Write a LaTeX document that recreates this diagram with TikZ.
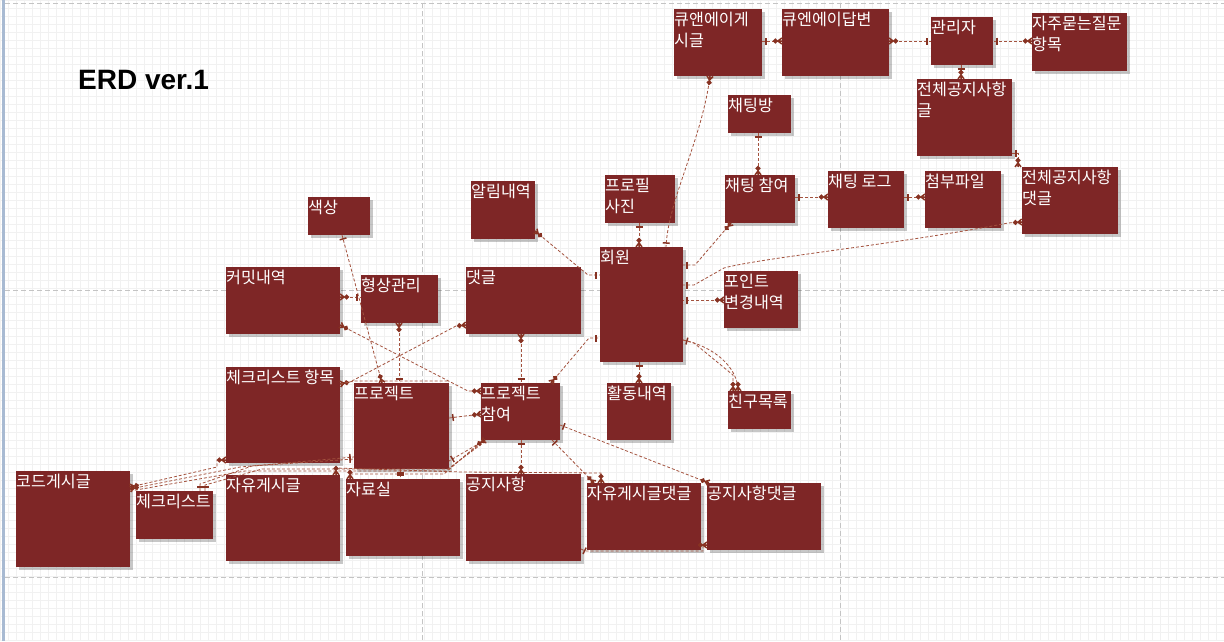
\documentclass[tikz,border=0pt]{standalone}
\usepackage{fontspec}
\newfontfamily\krfont{Noto Sans CJK KR}
\newfontfamily\titlefont{Liberation Sans}
\usetikzlibrary{decorations.markings,shadows}

\definecolor{boxred}{RGB}{126,38,38}
\definecolor{conn}{RGB}{163,82,62}
\definecolor{mk}{RGB}{135,50,34}
\definecolor{gridc}{RGB}{241,241,241}
\definecolor{pagec}{RGB}{196,196,196}
\definecolor{leftbar}{RGB}{168,186,210}

\tikzset{
  ent/.style={fill=boxred, draw=none, inner sep=0pt, outer sep=0pt, anchor=north west,
    drop shadow={shadow xshift=2.5pt, shadow yshift=-2.5pt, fill=black, opacity=0.22}},
  etext/.style={anchor=north west, inner sep=0pt, text=white, align=left,
    font=\krfont\fontsize{16.2}{21}\selectfont, xshift=0pt, yshift=-3pt},
  rel/.style={draw=conn, line width=0.8pt, dash pattern=on 3pt off 2pt},
  mkline/.style={draw=mk, solid, line width=1.5pt},
  onestart/.style={postaction={decorate, decoration={markings,
    mark=at position 4pt with {\draw[mkline] (0pt,-3.5pt)--(0pt,3.5pt);}}}},
  oneend/.style={postaction={decorate, decoration={markings,
    mark=at position -4pt with {\draw[mkline] (0pt,-3.5pt)--(0pt,3.5pt);}}}},
  manystart/.style={postaction={decorate, decoration={markings,
    mark=at position 0.1pt with {\draw[mkline] (0pt,-3pt)--(4pt,0pt)--(0pt,3pt) (0pt,0pt)--(4pt,0pt);
      \draw[mkline, fill=mk] (6.5pt,0pt) circle (1.7pt);}}}},
  manyend/.style={postaction={decorate, decoration={markings,
    mark=at position -0.1pt with {\draw[mkline] (0pt,-3pt)--(-4pt,0pt)--(0pt,3pt) (0pt,0pt)--(-4pt,0pt);
      \draw[mkline, fill=mk] (-6.5pt,0pt) circle (1.7pt);}}}},
}

% entity box: name, left, top, right, bottom, caption
\newcommand\erbox[6]{%
  \node[ent, minimum width={(#4-#2)*1pt}, minimum height={(#5-#3)*1pt},
    label={[etext]north west:#6}] (#1) at (#2,#3) {};}

\begin{document}
\begin{tikzpicture}[x=1pt, y=-1pt]
\useasboundingbox (0,0) rectangle (1224,641);
\fill[white] (0,0) rectangle (1224,641);

% sheet grid and page breaks
\draw[gridc, line width=0.6pt, step=8pt] (0,0) grid (1224,641);
\draw[pagec, line width=0.7pt, dash pattern=on 5pt off 3pt]
  (5,3) -- (1224,3)
  (5,290) -- (1224,290)
  (5,577) -- (1224,577)
  (422,3) -- (422,641)
  (840,3) -- (840,641);
\fill[leftbar] (1.5,0) rectangle (4.5,641);

% title
\node[anchor=base west, inner sep=0pt, font=\titlefont\bfseries\fontsize{28}{30}\selectfont]
  (title) at (78,89) {ERD ver.1};

% entities
\erbox{qa}{674}{9}{762}{76}{큐앤에이게\\시글}
\erbox{qaans}{782}{9}{889}{76}{큐엔에이답변}
\erbox{admin}{931}{17}{993}{65}{관리자}
\erbox{faq}{1032}{13}{1127}{71}{자주묻는질문\\항목}
\erbox{noticeall}{917}{79}{1012}{156}{전체공지사항\\글}
\erbox{chatroom}{728}{95}{791}{133}{채팅방}
\erbox{chatjoin}{725}{175}{795}{223}{채팅 참여}
\erbox{chatlog}{828}{171}{904}{228}{채팅 로그}
\erbox{attach}{925}{171}{1001}{228}{첨부파일}
\erbox{noticecmtall}{1022}{167}{1118}{234}{전체공지사항\\댓글}
\erbox{profile}{605}{175}{675}{223}{프로필\\사진}
\erbox{alarm}{471}{181}{535}{239}{알림내역}
\erbox{color}{308}{197}{370}{235}{색상}
\erbox{commit}{226}{267}{340}{334}{커밋내역}
\erbox{scm}{361}{275}{438}{323}{형상관리}
\erbox{comment}{466}{267}{581}{334}{댓글}
\erbox{member}{600}{247}{683}{362}{회원}
\erbox{point}{724}{271}{798}{328}{포인트\\변경내역}
\erbox{activity}{607}{383}{671}{440}{활동내역}
\erbox{friend}{728}{391}{791}{429}{친구목록}
\erbox{checkitem}{226}{367}{340}{463}{체크리스트 항목}
\erbox{project}{354}{383}{449}{469}{프로젝트}
\erbox{pjoin}{481}{383}{560}{440}{프로젝트\\참여}
\erbox{code}{16}{471}{130}{567}{코드게시글}
\erbox{check}{136}{491}{213}{539}{체크리스트}
\erbox{free}{226}{475}{340}{561}{자유게시글}
\erbox{archive}{346}{479}{460}{556}{자료실}
\erbox{notice}{466}{474}{581}{561}{공지사항}
\erbox{freecmt}{587}{483}{701}{550}{자유게시글댓글}
\erbox{noticecmt}{707}{483}{821}{550}{공지사항댓글}

% Q&A and administrator relations
\draw[rel,onestart,manyend] (qa.east |- 0,41) -- (qaans.west |- 0,41);
\draw[rel,manystart,oneend] (qaans.east |- 0,41) -- (admin.west |- 0,41);
\draw[rel,manystart,oneend] (faq.west |- 0,41) -- (admin.east |- 0,41);
\draw[rel,onestart,manyend] (admin.south -| 961,0) -- (noticeall.north -| 961,0);
\draw[rel,onestart,manyend] (noticeall.east |- 0,153) -| (noticecmtall.north -| 1018,0);

% chat relations
\draw[rel,onestart,manyend] (chatroom.south -| 758,0) -- (chatjoin.north -| 758,0);
\draw[rel,onestart,manyend] (chatjoin.east |- 0,197) -- (chatlog.west |- 0,197);
\draw[rel,onestart,manyend] (chatlog.east |- 0,197) -- (attach.west |- 0,197);

% member relations
\draw[rel,manystart,oneend] (qa.south -| 710,0) .. controls (702,140) and (668,200) .. (member.north -| 666,0);
\draw[rel,manystart,oneend] (chatjoin.south -| 731,0) -- (695,265) -- (member.east |- 0,265);
\draw[rel,manystart,oneend] (noticecmtall.west |- 0,222) -- (1008,223)
  .. controls (900,244) and (760,258) .. (724,268) -- (694,285) -- (member.east |- 0,285);
\draw[rel,manystart,oneend] (point.west |- 0,300) -- (member.east |- 0,300);
\draw[rel,onestart,manyend] (profile.south -| 639,0) -- (member.north -| 639,0);
\draw[rel,onestart,manyend] (member.south -| 639,0) -- (activity.north -| 639,0);
\draw[rel,onestart,manyend] (member.east |- 0,340) -- (694,343) -- (733,375) -- (friend.north -| 733,0);
\draw[rel,manyend] (member.east |- 0,340) .. controls (712,346) and (738,366) .. (friend.north -| 738,0);
\draw[rel,manystart,oneend] (alarm.east |- 0,231) -- (588,275) -- (member.west |- 0,275);
\draw[rel,manystart,oneend] (pjoin.north -| 551,0) -- (589,338) -- (member.west |- 0,338);

% project relations
\draw[rel,onestart,manyend] (color.south -| 342,0) -- (project.north -| 382,0);
\draw[rel,manystart,oneend] (commit.east |- 0,297) -- (scm.west |- 0,297);
\draw[rel,manystart,manyend] (commit.east |- 0,325) -- (468,391) -- (pjoin.west |- 0,391);
\draw[rel,manystart,oneend] (scm.south -| 399,0) -- (project.north -| 399,0);
\draw[rel,manystart,manyend] (comment.west |- 0,325) -- (456,326) -- (350,382) -- (checkitem.east |- 0,384);
\draw[rel,manystart,oneend] (comment.south -| 521,0) -- (pjoin.north -| 521,0);
\draw[rel,onestart,manyend] (project.east |- 0,418) -- (pjoin.west |- 0,414);
\draw[rel] (checkitem.east |- 0,384) -- (project.north west |- 0,381) -- (project.north east |- 0,381);

% board relations
\draw[rel,manystart,manyend] (code.east |- 0,487) -- (217,467) -- (217,460) -- (checkitem.west |- 0,460);
\draw[rel,manystart,oneend] (code.east |- 0,489) -- (240,467) -- (project.west |- 0,457);
\draw[rel] (code.east |- 0,491) -- (245,471) -- (446,471) -- (pjoin.south -| 485,0);
\draw[rel,onestart,oneend] (check.north -| 200,0) -- (200,484) -- (252,466) -- (project.west |- 0,459);
\draw[rel,onestart] (check.north -| 205,0) -- (205,485) -- (262,469) -- (448,469) -- (pjoin.south -| 487,0);
\draw[rel,manystart,manyend] (free.north -| 336,0) -- (336,468) -- (462,472) -- (601,473) -- (freecmt.north -| 601,0);
\draw[rel,manystart] (archive.north -| 350,0) -- (350,474) -- (444,474) -- (pjoin.south -| 483,0);
\draw[rel,onestart,oneend] (project.south -| 400,0) -- (archive.north -| 400,0);
\draw[rel,manystart,oneend] (pjoin.south -| 485,0) -- (project.east |- 0,461);
\draw[rel,onestart,manyend] (pjoin.south -| 521,0) -- (notice.north -| 521,0);
\draw[rel,onestart,manyend] (pjoin.south -| 552,0) -- (freecmt.north -| 594,0);
\draw[rel,onestart,manyend] (pjoin.east |- 0,425) -- (noticecmt.north -| 709,0);
\draw[rel,onestart,manyend] (notice.east |- 0,549) -- (585,551) -- (703,551) -- (703,545) -- (noticecmt.west |- 0,545);
\end{tikzpicture}
\end{document}
